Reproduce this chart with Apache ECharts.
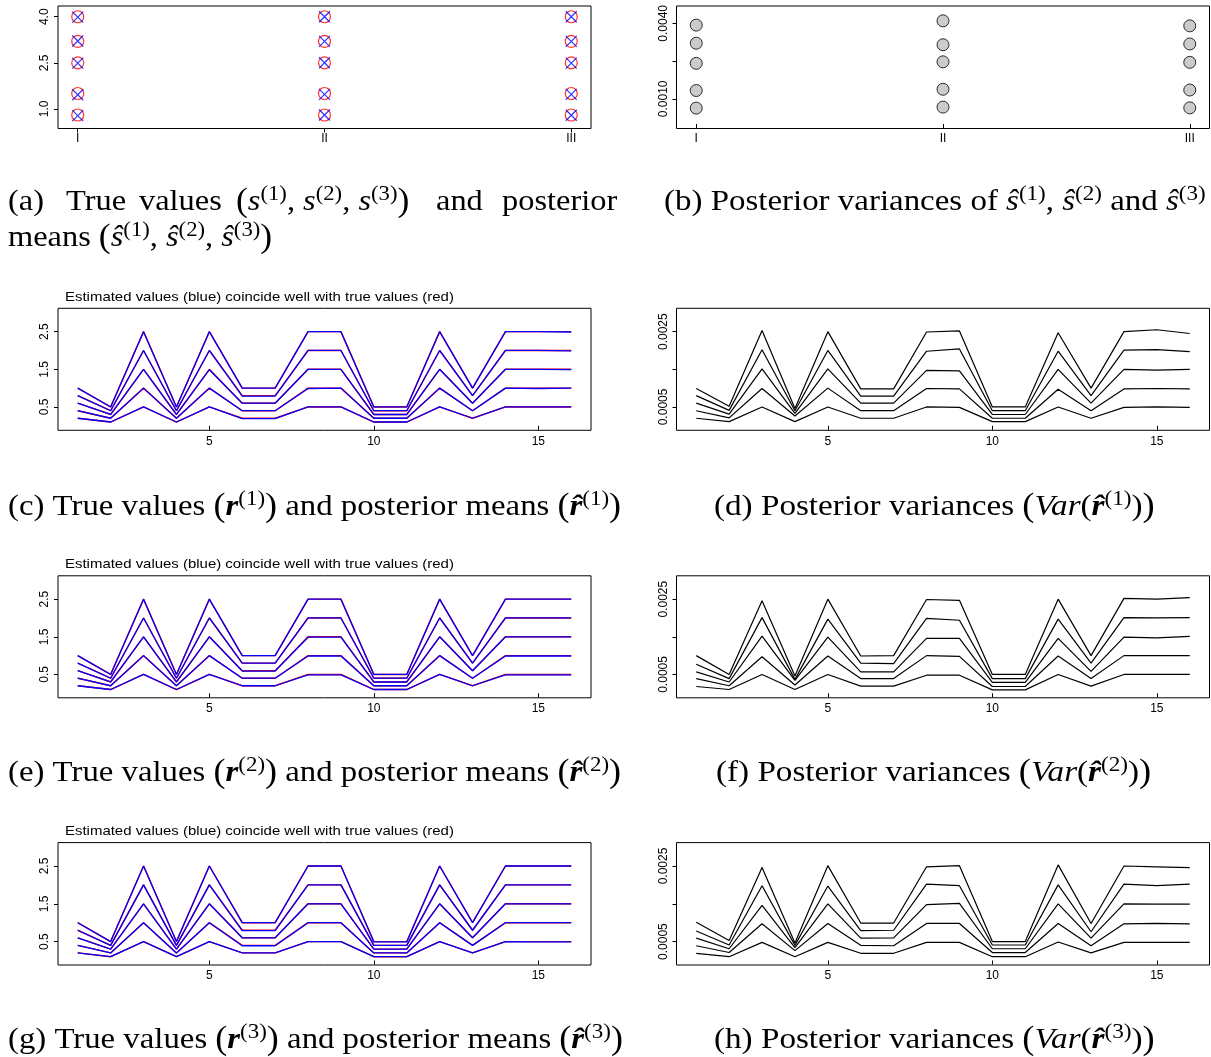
<!DOCTYPE html>
<html><head><meta charset="utf-8">
<script src="https://cdn.jsdelivr.net/npm/echarts@6/dist/echarts.min.js"></script>
<style>html,body{margin:0;padding:0;background:#fff}#c{width:1211px;height:1057px}</style>
</head><body><div id="c"></div>
<script>
// ---------- data ----------
const groupLabels = ['I', 'II', 'III'];
// panel (a): true s and posterior means, per group
const sTrueI = [0.8, 1.5, 2.5, 3.2, 4.0];
const sTrueII = [0.8, 1.5, 2.5, 3.2, 4.0];
const sTrueIII = [0.8, 1.5, 2.5, 3.2, 4.0];
const sEstI = [0.78, 1.46, 2.49, 3.21, 3.99];
const sEstII = [0.80, 1.47, 2.50, 3.20, 4.00];
const sEstIII = [0.79, 1.47, 2.49, 3.20, 4.00];
// panel (b): posterior variances
const sVarI = [0.00063, 0.00133, 0.00241, 0.00321, 0.00393];
const sVarII = [0.00067, 0.00138, 0.00247, 0.00315, 0.00410];
const sVarIII = [0.00064, 0.00135, 0.00245, 0.00318, 0.00390];

const positions = [1,2,3,4,5,6,7,8,9,10,11,12,13,14,15,16];
// true r values (same in c, e, g)
const rTrue1 = [0.2,0.1,0.5,0.1,0.5,0.2,0.2,0.5,0.5,0.1,0.1,0.5,0.2,0.5,0.5,0.5];
const rTrue2 = [0.4,0.2,1.0,0.2,1.0,0.4,0.4,1.0,1.0,0.2,0.2,1.0,0.4,1.0,1.0,1.0];
const rTrue3 = [0.6,0.3,1.5,0.3,1.5,0.6,0.6,1.5,1.5,0.3,0.3,1.5,0.6,1.5,1.5,1.5];
const rTrue4 = [0.8,0.4,2.0,0.4,2.0,0.8,0.8,2.0,2.0,0.4,0.4,2.0,0.8,2.0,2.0,2.0];
const rTrue5 = [1.0,0.5,2.5,0.5,2.5,1.0,1.0,2.5,2.5,0.5,0.5,2.5,1.0,2.5,2.5,2.5];
// posterior means
const rEstC1 = [0.2,0.1,0.5,0.1,0.5,0.19,0.19,0.5,0.5,0.1,0.1,0.5,0.2,0.5,0.5,0.5];
const rEstC2 = [0.4,0.2,1.0,0.2,1.0,0.4,0.4,0.99,1.0,0.2,0.2,1.0,0.4,1.0,0.99,1.0];
const rEstC3 = [0.6,0.3,1.5,0.3,1.49,0.6,0.6,1.5,1.5,0.3,0.3,1.5,0.6,1.5,1.5,1.49];
const rEstC4 = [0.8,0.4,2.0,0.4,2.0,0.79,0.79,2.0,2.0,0.4,0.4,2.0,0.8,2.0,2.0,1.99];
const rEstC5 = [1.0,0.5,2.5,0.5,2.5,1.0,1.0,2.5,2.5,0.5,0.5,2.5,1.0,2.5,2.5,2.49];
const rEstE1 = [0.2,0.1,0.5,0.1,0.5,0.2,0.2,0.49,0.49,0.1,0.1,0.5,0.2,0.49,0.49,0.49];
const rEstE2 = [0.4,0.2,1.0,0.2,1.0,0.4,0.4,0.99,0.99,0.2,0.2,1.0,0.4,0.99,0.99,0.99];
const rEstE3 = [0.6,0.3,1.5,0.3,1.5,0.59,0.59,1.49,1.49,0.3,0.3,1.5,0.6,1.5,1.5,1.5];
const rEstE4 = [0.8,0.4,2.0,0.4,2.0,0.8,0.8,2.0,2.0,0.4,0.4,2.0,0.8,2.0,2.0,2.0];
const rEstE5 = [1.0,0.5,2.5,0.5,2.5,1.0,1.0,2.5,2.5,0.5,0.5,2.5,1.0,2.5,2.5,2.5];
const rEstG1 = [0.2,0.1,0.5,0.1,0.5,0.2,0.2,0.5,0.5,0.1,0.1,0.5,0.2,0.5,0.49,0.49];
const rEstG2 = [0.4,0.2,1.0,0.2,1.0,0.39,0.39,1.0,1.0,0.2,0.2,1.0,0.4,1.0,1.0,1.0];
const rEstG3 = [0.6,0.3,1.5,0.3,1.5,0.6,0.6,1.5,1.5,0.3,0.3,1.5,0.6,1.5,1.5,1.5];
const rEstG4 = [0.8,0.4,2.0,0.4,2.0,0.79,0.79,2.0,2.0,0.4,0.4,2.0,0.8,2.0,2.0,2.0];
const rEstG5 = [1.0,0.5,2.5,0.5,2.5,1.0,1.0,2.5,2.5,0.49,0.49,2.5,1.0,2.5,2.5,2.5];
// posterior variances
const varD1 = [0.00020,0.00011,0.00050,0.00011,0.00050,0.00020,0.00020,0.00050,0.00049,0.00011,0.00011,0.00050,0.00020,0.00049,0.00050,0.00049];
const varD2 = [0.00040,0.00021,0.00099,0.00026,0.00100,0.00040,0.00040,0.00099,0.00098,0.00020,0.00020,0.00097,0.00040,0.00098,0.00099,0.00098];
const varD3 = [0.00060,0.00031,0.00151,0.00033,0.00151,0.00060,0.00060,0.00147,0.00146,0.00030,0.00030,0.00150,0.00060,0.00150,0.00148,0.00150];
const varD4 = [0.00080,0.00041,0.00202,0.00040,0.00200,0.00079,0.00079,0.00198,0.00204,0.00040,0.00040,0.00198,0.00080,0.00201,0.00202,0.00197];
const varD5 = [0.00099,0.00052,0.00253,0.00046,0.00250,0.00098,0.00098,0.00249,0.00252,0.00050,0.00050,0.00247,0.00100,0.00250,0.00255,0.00245];
const varF1 = [0.00018,0.00010,0.00050,0.00010,0.00050,0.00019,0.00019,0.00048,0.00048,0.00009,0.00009,0.00050,0.00019,0.00050,0.00050,0.00050];
const varF2 = [0.00039,0.00020,0.00097,0.00022,0.00099,0.00039,0.00039,0.00100,0.00098,0.00018,0.00018,0.00099,0.00039,0.00100,0.00100,0.00100];
const varF3 = [0.00057,0.00030,0.00152,0.00034,0.00149,0.00057,0.00057,0.00146,0.00146,0.00029,0.00029,0.00146,0.00058,0.00149,0.00147,0.00151];
const varF4 = [0.00077,0.00039,0.00201,0.00037,0.00197,0.00080,0.00079,0.00199,0.00194,0.00039,0.00039,0.00197,0.00080,0.00201,0.00200,0.00201];
const varF5 = [0.00100,0.00050,0.00246,0.00046,0.00250,0.00099,0.00100,0.00249,0.00247,0.00050,0.00050,0.00250,0.00100,0.00252,0.00250,0.00254];
const varH1 = [0.00019,0.00010,0.00048,0.00010,0.00048,0.00019,0.00019,0.00048,0.00048,0.00010,0.00010,0.00049,0.00020,0.00048,0.00048,0.00048];
const varH2 = [0.00039,0.00021,0.00097,0.00026,0.00098,0.00040,0.00039,0.00098,0.00098,0.00021,0.00021,0.00098,0.00039,0.00097,0.00098,0.00097];
const varH3 = [0.00059,0.00031,0.00146,0.00034,0.00150,0.00059,0.00060,0.00148,0.00151,0.00031,0.00031,0.00150,0.00059,0.00150,0.00149,0.00149];
const varH4 = [0.00078,0.00041,0.00198,0.00040,0.00197,0.00079,0.00080,0.00202,0.00198,0.00041,0.00041,0.00200,0.00076,0.00202,0.00198,0.00202];
const varH5 = [0.00101,0.00053,0.00246,0.00046,0.00251,0.00099,0.00099,0.00248,0.00251,0.00050,0.00050,0.00253,0.00098,0.00250,0.00248,0.00246];

const sYTicks = [1.0, 2.5, 4.0];
const sYLabels = [1.0, 2.5, 4.0];
const sVarTicks = [0.0010, 0.0025, 0.0040];
const sVarLabels = [0.0010, 0.0040];
const rYTicks = [0.5, 1.5, 2.5];
const rXTicks = [5, 10, 15];
const varYTicks = [0.0005, 0.0015, 0.0025];
const varYLabels = [0.0005, 0.0025];
const plotTitle = 'Estimated values (blue) coincide well with true values (red)';

// ---------- layout ----------
const L = 58, R = 676.5, W = 533;
const grids = [
  {left: L, top: 6, width: W, height: 122.5},      // a
  {left: R, top: 6, width: W, height: 122.5},      // b
  {left: L, top: 308.3, width: W, height: 122},    // c
  {left: R, top: 308.3, width: W, height: 122},    // d
  {left: L, top: 575.8, width: W, height: 122},    // e
  {left: R, top: 575.8, width: W, height: 122},    // f
  {left: L, top: 842.6, width: W, height: 122.4},  // g
  {left: R, top: 842.6, width: W, height: 122.4},  // h
].map(g => Object.assign({show: true, borderColor: '#000', borderWidth: 1, backgroundColor: 'transparent', containLabel: false}, g));

const tickFont = {fontFamily: 'Liberation Sans', fontSize: 12, color: '#000'};
function xAxisDef(i, min, max, ticks, fmt, margin) {
  return {type: 'value', gridIndex: i, min: min, max: max,
    axisLine: {show: false}, splitLine: {show: false},
    axisTick: {show: true, length: 4, customValues: ticks, lineStyle: {color: '#000', width: 1}},
    axisLabel: Object.assign({show: true, customValues: ticks, formatter: fmt, margin: margin, showMinLabel: true, showMaxLabel: true}, tickFont)};
}
function yAxisDef(i, min, max, ticks, labels, fmt) {
  return {type: 'value', gridIndex: i, min: min, max: max,
    axisLine: {show: false}, splitLine: {show: false},
    axisTick: {show: true, length: 4, customValues: ticks, lineStyle: {color: '#000', width: 1}},
    axisLabel: Object.assign({show: true, customValues: labels, rotate: 90, formatter: fmt, margin: 7}, tickFont)};
}
const romanFmt = v => groupLabels[Math.round(v) - 1];
const intFmt = v => String(v);

const xAxes = [
  xAxisDef(0, 0.92, 3.08, [1, 2, 3], romanFmt, 4),
  xAxisDef(1, 0.92, 3.08, [1, 2, 3], romanFmt, 4),
];
for (let i = 2; i < 8; i++) xAxes.push(xAxisDef(i, 0.4, 16.6, rXTicks, intFmt, 5));
const yAxes = [
  yAxisDef(0, 0.36, 4.35, sYTicks, sYLabels, v => v.toFixed(1)),
  yAxisDef(1, -0.00018, 0.00469, sVarTicks, sVarLabels, v => v.toFixed(4)),
];
for (let i = 2; i < 8; i++) {
  if (i % 2 === 0) yAxes.push(yAxisDef(i, -0.12, 3.12, rYTicks, rYTicks, v => v.toFixed(1)));
  else yAxes.push(yAxisDef(i, -0.00012, 0.00312, varYTicks, varYLabels, v => v.toFixed(4)));
}

// ---------- series ----------
const series = [];
const sTrue = [sTrueI, sTrueII, sTrueIII];
const sEst = [sEstI, sEstII, sEstIII];
const sVar = [sVarI, sVarII, sVarIII];
function pts(groups) {
  const out = [];
  groups.forEach((arr, g) => arr.forEach(v => out.push([g + 1, v])));
  return out;
}
series.push({type: 'scatter', xAxisIndex: 0, yAxisIndex: 0, data: pts(sTrue), symbol: 'circle', symbolSize: 12,
  itemStyle: {color: 'rgba(0,0,0,0)', borderColor: '#ff0000', borderWidth: 1.2}, silent: true});
series.push({type: 'scatter', xAxisIndex: 0, yAxisIndex: 0, data: pts(sEst), symbol: 'path://M0,0L10,10M10,0L0,10', symbolSize: 11,
  itemStyle: {color: 'rgba(0,0,0,0)', borderColor: '#0000ff', borderWidth: 1.2}, silent: true});
series.push({type: 'scatter', xAxisIndex: 1, yAxisIndex: 1, data: pts(sVar), symbol: 'circle', symbolSize: 12,
  itemStyle: {color: '#bebebe', borderColor: '#000', borderWidth: 1}, silent: true});

function lineSeries(idx, arr, color, w) {
  return {type: 'line', xAxisIndex: idx, yAxisIndex: idx, data: positions.map((p, j) => [p, arr[j]]),
    showSymbol: false, symbol: 'none', lineStyle: {color: color, width: w}, silent: true};
}
const rTrue = [rTrue1, rTrue2, rTrue3, rTrue4, rTrue5];
const rEst = {2: [rEstC1, rEstC2, rEstC3, rEstC4, rEstC5], 4: [rEstE1, rEstE2, rEstE3, rEstE4, rEstE5], 6: [rEstG1, rEstG2, rEstG3, rEstG4, rEstG5]};
const vars = {3: [varD1, varD2, varD3, varD4, varD5], 5: [varF1, varF2, varF3, varF4, varF5], 7: [varH1, varH2, varH3, varH4, varH5]};
[2, 4, 6].forEach(idx => {
  rTrue.forEach(a => series.push(lineSeries(idx, a, '#ff0000', 1.4)));
  rEst[idx].forEach(a => series.push(lineSeries(idx, a, '#0000ff', 1.3)));
});
[3, 5, 7].forEach(idx => vars[idx].forEach(a => series.push(lineSeries(idx, a, '#000000', 1.2))));

// ---------- text ----------
const FS = 30;
const capRich = {
  i: {fontStyle: 'italic', fontFamily: 'Liberation Serif', fontSize: FS, lineHeight: 36},
  bi: {fontStyle: 'italic', fontWeight: 'bold', fontFamily: 'Liberation Serif', fontSize: FS, lineHeight: 36},
  sup: {fontFamily: 'Liberation Serif', fontSize: 21, lineHeight: 21, verticalAlign: 'top'},
  p: {fontFamily: 'Liberation Serif', fontSize: 33, lineHeight: 36}
};
function cap(x, y, text, sx) {
  return {type: 'text', x: x, y: y, scaleX: sx || 1.08, silent: true,
    style: {text: text, rich: capRich, fontFamily: 'Liberation Serif', fontSize: FS, lineHeight: 36, fill: '#000', verticalAlign: 'middle', align: 'left'}};
}
const graphics = [];
// (a) line 1, justified words
graphics.push(cap(8, 202, '(a)'));
graphics.push(cap(66, 202, 'True'));
graphics.push(cap(139, 202, 'values'));
graphics.push(cap(236, 202, '{p|(}{i|s}{sup|(1)}, {i|s}{sup|(2)}, {i|s}{sup|(3)}{p|)}'));
graphics.push(cap(436, 202, 'and'));
graphics.push(cap(502, 202, 'posterior'));
graphics.push(cap(8, 238, 'means {p|(}{i|ŝ}{sup|(1)}, {i|ŝ}{sup|(2)}, {i|ŝ}{sup|(3)}{p|)}'));
graphics.push(cap(664, 202, '(b) Posterior variances of {i|ŝ}{sup|(1)}, {i|ŝ}{sup|(2)} and {i|ŝ}{sup|(3)}', 1.098));
const capR = (l, n) => '(' + l + ') True values {p|(}{bi|r}{sup|(' + n + ')}{p|)} and posterior means {p|(}{bi|r̂}{sup|(' + n + ')}{p|)}';
const capV = (l, n) => '(' + l + ') Posterior variances {p|(}{i|Var}({bi|r̂}{sup|(' + n + ')}){p|)}';
graphics.push(cap(8, 507, capR('c', 1), 1.093));
graphics.push(cap(714, 507, capV('d', 1), 1.105));
graphics.push(cap(8, 773, capR('e', 2), 1.093));
graphics.push(cap(716, 773, capV('f', 2), 1.105));
graphics.push(cap(8, 1040, capR('g', 3), 1.093));
graphics.push(cap(714, 1040, capV('h', 3), 1.105));
[297, 564, 831].forEach(y => graphics.push({type: 'text', x: 65, y: y, scaleX: 1.15, silent: true,
  style: {text: plotTitle, fontFamily: 'Liberation Sans', fontSize: 13, fill: '#000', verticalAlign: 'middle'}}));

const chart = echarts.init(document.getElementById('c'), null, {renderer: 'canvas'});
chart.setOption({animation: false, backgroundColor: '#fff', grid: grids, xAxis: xAxes, yAxis: yAxes, series: series, graphic: graphics});
</script></body></html>
